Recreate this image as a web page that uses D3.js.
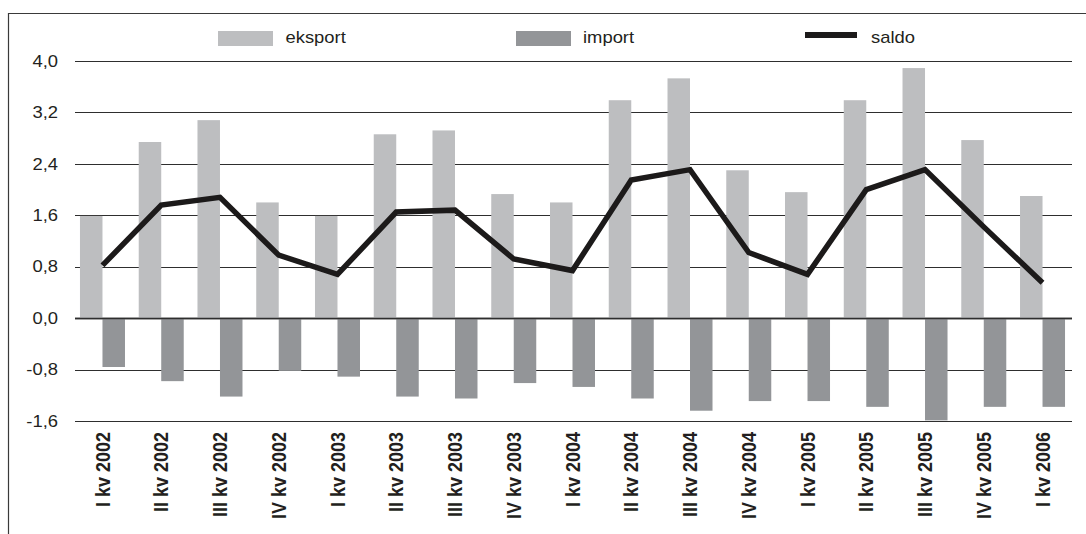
<!DOCTYPE html>
<html>
<head>
<meta charset="utf-8">
<script src="https://cdn.jsdelivr.net/npm/d3@7"></script>
<style>
  html, body { margin: 0; padding: 0; background: #fff; }
  svg { display: block; }
  text { font-family: "Liberation Sans", Arial, sans-serif; fill: #231f20; }
</style>
</head>
<body>
<svg id="chart" width="1086" height="534"></svg>
<script>
const categories = ["I kv 2002","II kv 2002","III kv 2002","IV kv 2002",
  "I kv 2003","II kv 2003","III kv 2003","IV kv 2003",
  "I kv 2004","II kv 2004","III kv 2004","IV kv 2004",
  "I kv 2005","II kv 2005","III kv 2005","IV kv 2005","I kv 2006"];
const eksport = [1.59, 2.74, 3.08, 1.80, 1.59, 2.86, 2.92, 1.93, 1.80, 3.39, 3.73, 2.30, 1.96, 3.39, 3.89, 2.77, 1.90];
const importVals = [-0.76, -0.98, -1.22, -0.82, -0.91, -1.22, -1.25, -1.01, -1.07, -1.25, -1.44, -1.29, -1.29, -1.38, -1.59, -1.38, -1.38];
const saldo = [0.82, 1.76, 1.88, 0.98, 0.68, 1.65, 1.68, 0.92, 0.74, 2.15, 2.31, 1.02, 0.68, 2.00, 2.31, 1.42, 0.55];
const yTicks = [-1.6, -0.8, 0.0, 0.8, 1.6, 2.4, 3.2, 4.0];
const seriesNames = ["eksport", "import", "saldo"];

const svg = d3.select("#chart");
const colEks = "#bdbec0", colImp = "#939598", colLine = "#1c1a1a", colGrid = "#2e2e2e";
const sx = 1.15; // horizontal text stretch of the original

// Frame
svg.append("line").attr("x1", 8.5).attr("x2", 8.5).attr("y1", 13).attr("y2", 534)
  .attr("stroke", "#3a3a3a").attr("stroke-width", 1.2);
svg.append("line").attr("x1", 8).attr("x2", 1086).attr("y1", 13.5).attr("y2", 13.5)
  .attr("stroke", "#3a3a3a").attr("stroke-width", 1.2);

const x = d3.scaleBand().domain(categories).range([73.1, 1071.9])
  .paddingInner(0.234).paddingOuter(0.117);
const x1 = d3.scaleBand().domain(["eksport", "import"]).range([0, x.bandwidth()]);
const y = d3.scaleLinear().domain([-1.6, 4.0]).range([421, 61]);

// Grid + tick labels
const grid = svg.append("g");
yTicks.forEach(t => {
  grid.append("line").attr("x1", 75).attr("x2", 1072)
    .attr("y1", Math.round(y(t)) + 0.5).attr("y2", Math.round(y(t)) + 0.5)
    .attr("stroke", colGrid).attr("stroke-width", t === 0 ? 1.6 : 1.1);
  grid.append("text")
    .attr("transform", `translate(58,${y(t)}) scale(${sx},1)`)
    .attr("text-anchor", "end").attr("dy", "0.36em")
    .style("font-size", "16px")
    .text(d3.format(".1f")(t).replace(".", ",").replace("−", "-"));
});

// Bars
const groups = svg.append("g").selectAll("g").data(categories).join("g")
  .attr("transform", d => `translate(${x(d)},0)`);
groups.append("rect")
  .attr("x", x1("eksport")).attr("width", x1.bandwidth())
  .attr("y", (d, i) => y(eksport[i])).attr("height", (d, i) => y(0) - y(eksport[i]))
  .attr("fill", colEks);
groups.append("rect")
  .attr("x", x1("import")).attr("width", x1.bandwidth())
  .attr("y", y(0)).attr("height", (d, i) => y(importVals[i]) - y(0))
  .attr("fill", colImp);

// redraw zero line above bars
svg.append("line").attr("x1", 75).attr("x2", 1072)
  .attr("y1", Math.round(y(0)) + 0.5).attr("y2", Math.round(y(0)) + 0.5)
  .attr("stroke", colGrid).attr("stroke-width", 1.6);

// Saldo line
const line = d3.line()
  .x((d, i) => x(categories[i]) + x.bandwidth() / 2)
  .y(d => y(d));
svg.append("path").datum(saldo).attr("d", line)
  .attr("fill", "none").attr("stroke", colLine).attr("stroke-width", 5.5)
  .attr("stroke-linejoin", "miter");

// Category labels
svg.append("g").selectAll("text").data(categories).join("text")
  .attr("transform", d => `translate(${x(d) + x.bandwidth() / 2},432) rotate(-90) scale(1,1.1)`)
  .attr("text-anchor", "end").attr("dy", "0.36em")
  .style("font-size", "18px").style("font-weight", "bold")
  .text(d => d);

// Legend
const leg = svg.append("g");
leg.append("rect").attr("x", 218).attr("y", 31).attr("width", 55).attr("height", 15).attr("fill", colEks);
leg.append("text").attr("transform", `translate(285.5,43) scale(${sx},1)`).style("font-size", "16px").text(seriesNames[0]);
leg.append("rect").attr("x", 516).attr("y", 31).attr("width", 55).attr("height", 15).attr("fill", colImp);
leg.append("text").attr("transform", `translate(583,43) scale(${sx},1)`).style("font-size", "16px").text(seriesNames[1]);
leg.append("line").attr("x1", 805).attr("x2", 857).attr("y1", 35).attr("y2", 35)
  .attr("stroke", colLine).attr("stroke-width", 6);
leg.append("text").attr("transform", `translate(871,43) scale(${sx},1)`).style("font-size", "16px").text(seriesNames[2]);
</script>
</body>
</html>
